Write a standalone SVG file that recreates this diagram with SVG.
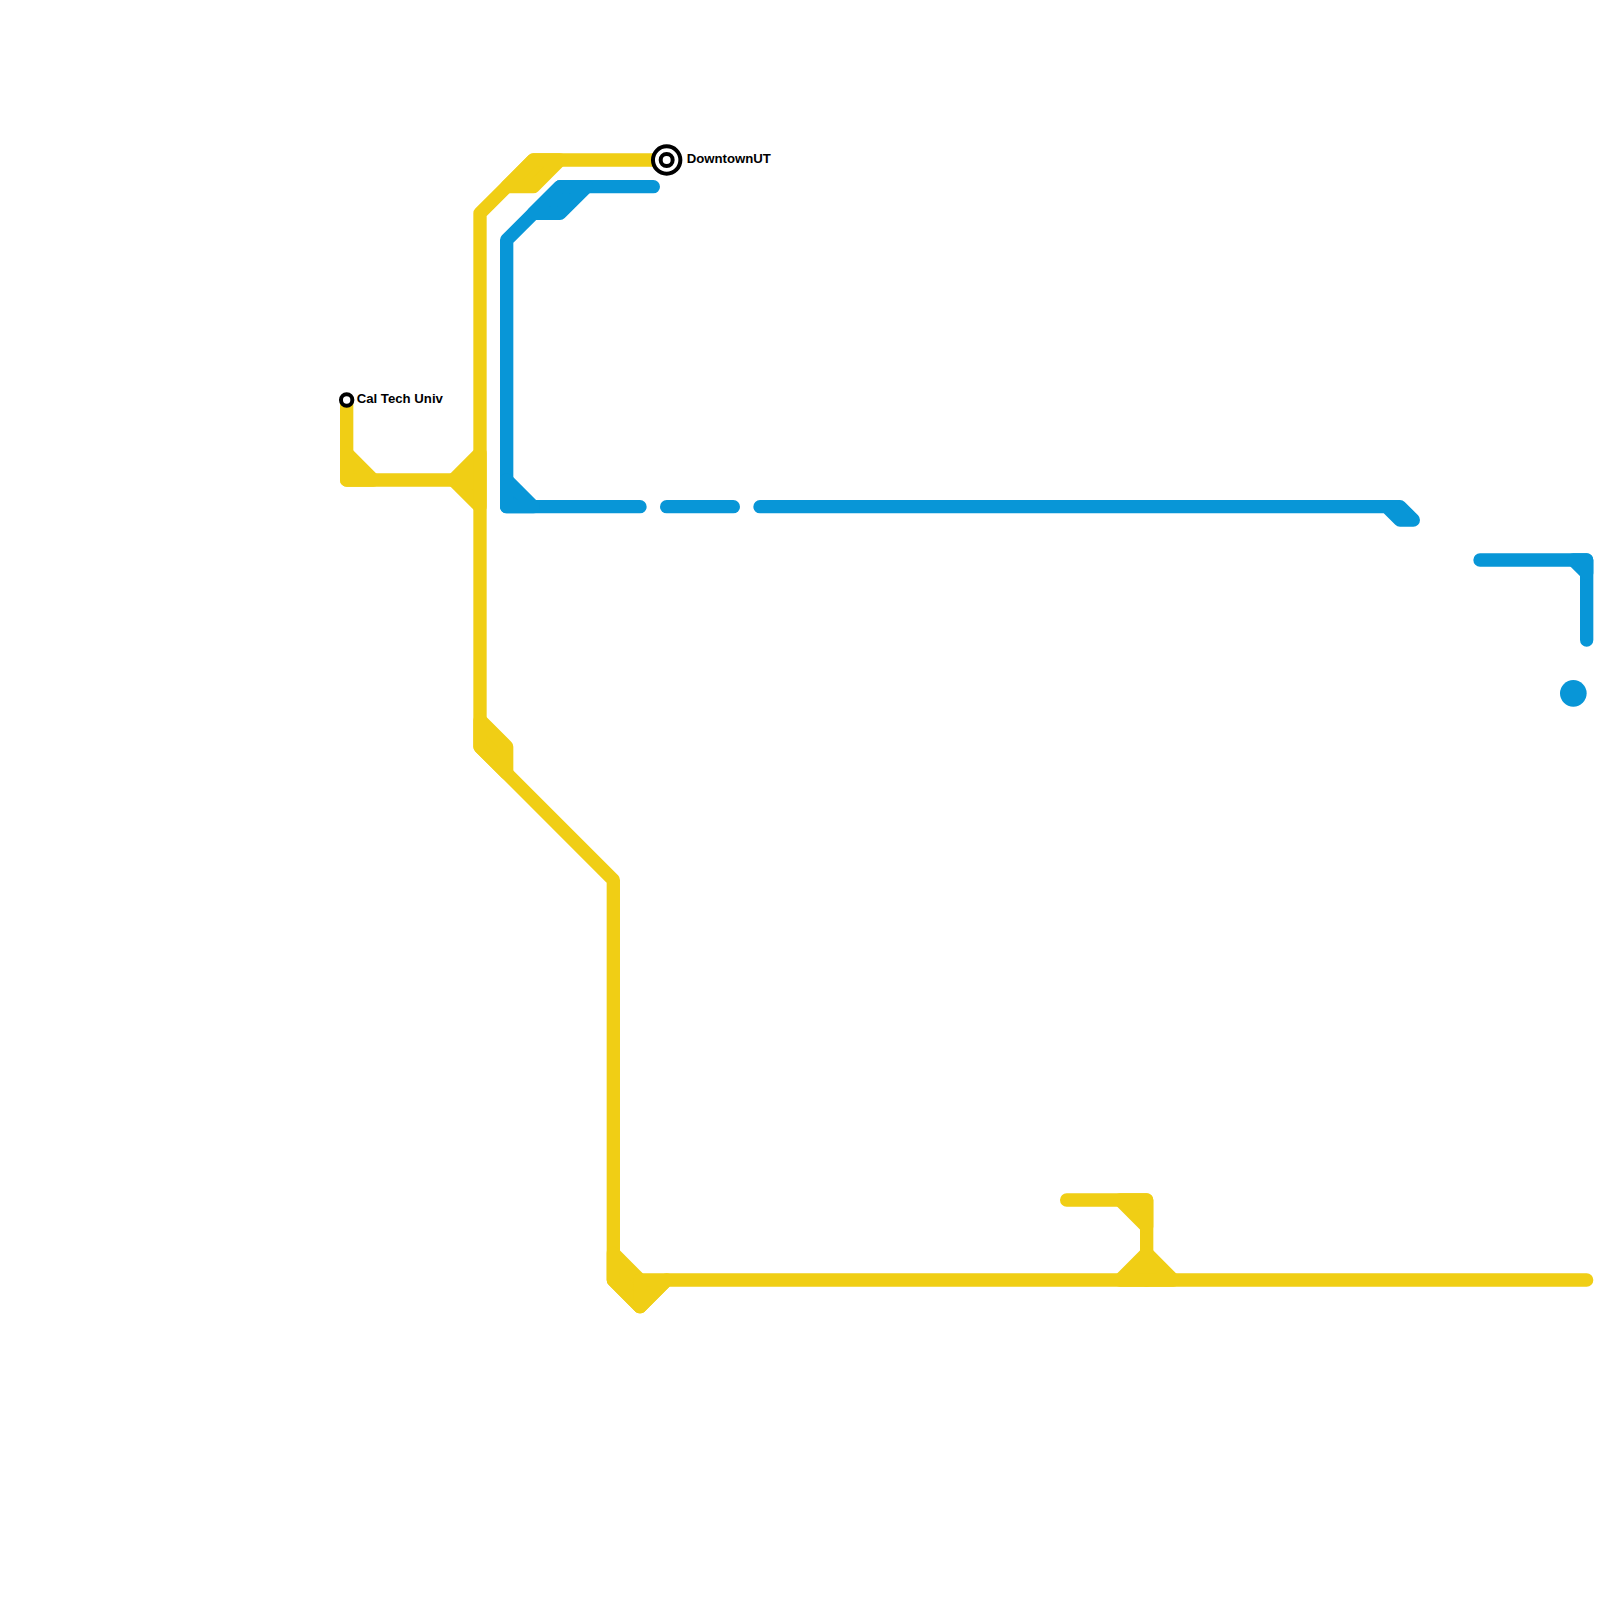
<svg xmlns="http://www.w3.org/2000/svg" width="1600" height="1600" viewBox="0 0 1600 1600">
<style>
.y{stroke:#f0ce15;fill:#f0ce15}
.b{stroke:#0896d7;fill:#0896d7}
.s{stroke-width:13.33;stroke-linecap:round;stroke-linejoin:round}
.t{font-family:"Liberation Sans",Arial,sans-serif;font-weight:700;font-size:13.2px;fill:#000}
</style>
<rect width="1600" height="1600" fill="#fff"/>
<g id="connectors">
<g class="y s">
<path style="fill:none" d="M346.67 400V480H453.33"/>
<path d="M346.67 453.33L373.33 480H346.67Z"/>
<path d="M453.33 480L480 453.33V506.67Z"/>
<path style="fill:none" d="M653.33 160H533.33L480 213.33V746.67L613.33 880V1280L640 1306.67L666.67 1280H1586.67"/>
<path d="M506.67 186.67H533.33L560 160H533.33Z"/>
<path d="M480 720L506.67 746.67V773.33L480 746.67Z"/>
<path d="M613.33 1253.33L640 1280L640 1306.67L613.33 1280Z"/>
<path d="M640 1280H666.67L640 1306.67Z"/>
<path style="fill:none" d="M1066.67 1200H1146.67V1280"/>
<path d="M1120 1200L1146.67 1226.67V1200Z"/>
<path d="M1120 1280L1146.67 1253.33L1173.33 1280Z"/>
</g>
<g class="b s">
<path style="fill:none" d="M653.33 186.67H560L506.67 240V506.67H640"/>
<path d="M533.33 213.33H560L586.67 186.67H560Z"/>
<path d="M506.67 480L533.33 506.67H506.67Z"/>
<path style="fill:none" d="M666.67 506.67H733.33"/>
<path style="fill:none" d="M760 506.67H1400L1413.33 520H1400L1386.67 506.67"/>
<path style="fill:none" d="M1480 560H1586.67V640"/>
<path d="M1573.33 560L1586.67 573.33V560Z"/>
</g>
</g>
<g id="node-dot"><circle cx="1573.33" cy="693.33" r="13.33" fill="#0896d7"/></g>
<g id="node-cal-tech">
<circle cx="346.67" cy="400" r="5.7" fill="#fff" stroke="#000" stroke-width="4"/>
<text class="t" x="356.67" y="403.2">Cal Tech Univ</text>
</g>
<g id="node-downtown">
<circle cx="666.67" cy="160" r="13.7" fill="#fff" stroke="#000" stroke-width="4"/>
<circle cx="666.67" cy="160" r="6" fill="#fff" stroke="#000" stroke-width="4"/>
<text class="t" x="686.67" y="163.3">DowntownUT</text>
</g>
</svg>
